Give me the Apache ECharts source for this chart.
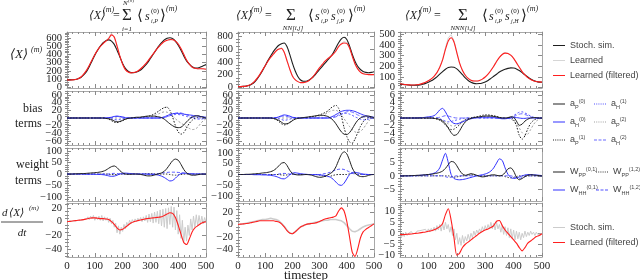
<!DOCTYPE html>
<html><head><meta charset="utf-8">
<script src="https://cdn.jsdelivr.net/npm/echarts@6/dist/echarts.min.js"></script>
<style>html,body{margin:0;padding:0;background:#fff}#c{width:640px;height:280px}</style>
</head><body><div id="c"></div>
<script>
// ---------- x values ----------
const T = [0,10,20,30,40,50,60,70,80,90,100,110,120,130,140,150,160,170,180,190,200,210,220,230,240,250,260,270,280,290,300,310,320,330,340,350,360,370,380,390,400,410,420,430,440,450,460,470,480,490,500];
const T5 = [0,5,10,15,20,25,30,35,40,45,50,55,60,65,70,75,80,85,90,95,100,105,110,115,120,125,130,135,140,145,150,155,160,165,170,175,180,185,190,195,200,205,210,215,220,225,230,235,240,245,250,255,260,265,270,275,280,285,290,295,300,305,310,315,320,325,330,335,340,345,350,355,360,365,370,375,380,385,390,395,400,405,410,415,420,425,430,435,440,445,450,455,460,465,470,475,480,485,490,495,500];

// ---------- row 1: <X>^(m) ----------
const stoch1 = [90,90,92,95,105,120,150,190,250,320,390,450,500,540,565,575,560,520,450,370,290,230,195,180,178,185,200,225,260,300,350,400,450,500,540,575,595,600,590,560,510,450,380,320,280,250,235,235,245,260,275];
const filt1 = [90,88,90,95,105,125,160,205,265,330,395,450,495,530,560,590,635,610,500,380,280,215,185,175,180,190,210,240,275,315,360,405,450,490,525,555,570,580,575,560,525,470,400,330,280,245,230,225,225,225,220];
const learned1 = [92,85,93,92,108,122,163,200,270,326,398,446,500,526,566,600,655,600,510,372,285,210,188,172,182,188,214,236,280,310,365,400,455,485,530,560,590,565,600,545,530,460,405,325,285,240,232,222,228,220,222];
const stoch2 = [10,12,15,20,30,50,80,130,190,260,340,420,490,560,615,660,685,695,640,520,380,260,170,115,95,95,110,140,180,230,280,330,380,430,480,540,620,700,760,785,750,650,520,410,330,280,250,235,230,235,245];
const filt2 = [10,12,15,20,32,55,90,140,200,270,340,410,470,520,570,600,610,550,420,290,180,120,90,75,75,85,105,140,190,250,310,360,410,450,480,520,570,640,680,695,690,620,490,370,290,240,215,205,200,200,200];
const learned2 = [12,10,17,18,35,52,93,137,205,266,345,405,475,515,578,595,625,545,425,285,185,115,93,72,78,82,108,137,195,245,315,355,415,445,490,515,580,650,690,720,700,610,500,365,295,235,220,200,205,195,205];
const stoch3 = [30,28,25,22,20,20,21,24,30,38,48,62,80,100,125,150,172,188,193,190,175,150,120,90,65,48,38,35,36,42,52,66,85,105,125,145,160,172,180,185,183,175,160,140,118,98,80,66,56,50,48];
const filt3 = [35,30,26,24,22,23,25,30,38,48,62,80,105,140,190,260,360,440,470,430,330,230,160,115,85,68,60,60,65,78,98,125,160,200,245,285,312,325,322,305,275,235,190,150,118,92,75,62,55,52,50];
const learned3 = [37,29,27,23,23,22,26,29,40,47,64,79,108,138,195,265,375,470,500,445,335,225,163,112,87,66,62,58,67,76,100,123,163,198,250,282,318,330,325,300,278,230,193,148,120,90,77,60,57,50,52];

// ---------- row 2: bias terms ----------
const aP0_1 = [0,0,0,0,0,0,0,0,0,0,0,0,0,0,-1,-2,-4,-8,-10,-9,-6,-3,-1,0,1,2,2,3,4,5,5,5,4,3,1,-3,-9,-15,-20,-24,-25,-24,-18,-10,-3,2,5,6,4,2,0];
const aP1_1 = [0,0,0,0,0,0,0,0,0,0,0,0,0,0,-1,-3,-7,-11,-12,-10,-7,-3,-1,0,0,1,1,2,3,4,6,9,13,18,23,27,28,20,2,-20,-36,-42,-38,-26,-14,-6,-1,2,3,2,0];
const aP2_1 = [0,0,0,0,0,0,0,0,0,0,0,0,0,0,0,0,0,0,0,0,0,0,0,0,0,0,0,0,0,1,3,5,8,11,14,16,15,11,5,-2,-8,-13,-18,-23,-27,-30,-29,-24,-15,-7,-2];
const aH0_1 = [0,0,0,0,0,0,0,0,0,0,0,0,0,0,0,1,2,4,5,4,3,1,0,0,0,0,0,0,0,0,0,0,0,0,1,3,6,9,11,12,12,11,10,9,8,7,6,5,4,3,2];
const aH1_1 = [0,0,0,0,0,0,0,0,0,0,0,0,0,0,0,0,-2,-4,-5,-4,-2,-1,0,0,0,0,0,0,0,0,0,0,0,0,0,2,4,6,8,9,9,8,6,4,2,0,-2,-3,-3,-2,-1];
const aH2_1 = [0,0,0,0,0,0,0,0,0,0,0,0,0,0,0,0,1,3,4,3,1,0,0,0,0,0,0,0,0,0,0,0,0,0,0,1,3,6,9,12,14,13,11,8,5,3,1,0,0,0,0];
const aP0_2 = [0,0,0,0,0,0,0,0,0,0,0,0,0,-1,-3,-6,-11,-15,-15,-12,-7,-3,-1,0,1,2,3,4,5,6,7,7,6,4,0,-6,-15,-26,-36,-42,-43,-38,-28,-16,-6,0,3,5,5,3,1];
const aP1_2 = [0,0,0,0,0,0,0,0,0,0,0,0,0,-1,-4,-9,-15,-18,-16,-11,-6,-2,0,0,1,1,2,3,4,6,8,11,14,18,25,30,33,25,5,-25,-48,-62,-65,-55,-38,-22,-10,-3,1,2,0];
const aP2_2 = [0,0,0,0,0,0,0,0,0,0,0,0,0,0,0,0,0,0,0,0,0,0,0,0,0,0,0,0,0,1,3,6,10,14,18,20,20,16,8,-2,-12,-22,-30,-36,-38,-35,-28,-18,-8,-2,0];
const aH0_2 = [0,0,0,0,0,0,0,0,0,0,0,0,0,0,1,3,6,8,7,5,2,1,0,0,0,0,0,0,0,0,0,0,0,0,2,5,9,13,17,19,20,20,19,17,14,11,8,6,4,3,2];
const aH1_2 = [0,0,0,0,0,0,0,0,0,0,0,0,0,0,0,-2,-4,-6,-5,-3,-1,0,0,0,0,0,0,0,0,0,0,0,0,0,0,2,5,8,11,12,12,10,7,3,0,-3,-5,-5,-3,-1,0];
const aH2_2 = [0,0,0,0,0,0,0,0,0,0,0,0,0,0,0,2,4,5,4,2,1,0,0,0,0,0,0,0,0,0,0,0,0,0,0,1,3,6,9,13,16,17,15,12,8,5,3,2,1,0,0];
const aP0_3 = [0,0,0,0,0,0,0,0,0,0,0,0,-0.1,-0.2,-0.4,-0.8,-1.5,-2.6,-3.8,-4.5,-4.3,-3.3,-2,-1,-0.4,-0.1,0.1,0.2,0.3,0.4,0.5,0.5,0.5,0.4,0.3,0.1,0,0,0.1,0.3,0.2,-0.8,-1.9,-1.6,-0.8,-0.3,0,0.1,0.1,0,0];
const aP1_3 = [0,0,0,0,0,0,0,0,0,0,0,0,-0.1,-0.3,-0.6,-1.1,-1.8,-2.5,-3,-2.9,-2.4,-1.7,-1,-0.5,-0.2,0,0.2,0.3,0.5,0.7,0.8,0.8,0.7,0.6,0.4,0.2,0,-0.1,0,0.2,-0.5,-2,-4.5,-5.5,-4.6,-2.8,-1.4,-0.6,-0.2,0,0];
const aP2_3 = [0,0,0,0,0,0,0,0,0,0,0,0,0,-0.1,-0.3,-0.6,-1,-1.5,-2,-2.1,-1.8,-1.3,-0.8,-0.4,-0.1,0,0.1,0.2,0.3,0.4,0.5,0.5,0.4,0.3,0.2,0.1,0,0,-0.1,-0.3,-0.7,-1.4,-2.6,-3.8,-4.5,-4.2,-3,-1.7,-0.8,-0.3,0];
const aH0_3 = [0,0,0,0,0,0,0,0.1,0.1,0.2,0.3,0.4,0.6,1.2,2.1,2.5,1.6,0.2,-0.9,-1.4,-1.5,-1.3,-1,-0.7,-0.4,-0.2,0,0.1,0.1,0.2,0.2,0.2,0.2,0.1,0,-0.1,-0.2,-0.2,-0.1,0,0.1,0.1,0,-0.1,-0.1,0,0,0,0,0,0];
const aH1_3 = [0,0,0,0,0,0,0,0,0,0,0,0,0,0,-0.2,-0.5,-0.8,-1,-0.9,-0.7,-0.5,-0.3,-0.1,0,0,0,0,0,0,0,0,0,0,0,0,0,0,0,0,0.2,0.6,1.1,1.5,1.6,1.3,0.9,0.5,0.2,0,0,0];
const aH2_3 = [0,0,0,0,0,0,0,0,0,0,0,0,0,0,0.2,0.4,0.6,0.5,0.3,0.1,0,0,0,0,0,0,0,0,0,0,0,0,0,0,0,0,0,0,0,0,0.3,0.7,1,1.1,0.9,0.6,0.3,0.1,0,0,0];

// ---------- row 3: weight terms ----------
const WPP01_1 = [0,0,0,1,1,2,2,3,4,5,6,7,9,12,17,25,32,35,28,15,5,0,-1,-1,0,0,-1,-3,-6,-8,-8,-6,-2,1,5,12,25,42,58,65,60,42,20,5,-2,-5,-5,-3,-1,0,0];
const WPP12_1 = [0,0,0,0,0,0,0,0,0,0,0,0,0,0,0,-1,-2,-3,-2,-1,0,0,0,0,0,0,0,0,1,2,2,1,0,0,0,0,0,-2,-4,-5,-4,-2,-1,0,0,0,0,0,0,0,0];
const WHH01_1 = [0,0,0,0,0,0,0,-1,-1,-1,-1,-2,-2,-3,-5,-8,-10,-9,-5,0,3,4,3,2,1,0,0,0,0,-1,-1,-2,-3,-5,-9,-15,-23,-30,-28,-18,-6,2,4,3,2,1,0,0,0,0,0];
const WHH12_1 = [0,0,0,0,0,0,0,0,0,0,0,0,0,0,0,0,2,3,2,1,0,0,0,0,0,0,0,0,0,0,0,0,1,2,4,6,7,8,8,8,7,6,4,2,1,0,0,0,0,0,0];
const WPP01_2 = [0,0,0,1,1,2,3,4,5,7,8,10,13,18,27,40,52,55,42,20,5,0,-2,-2,-1,0,-1,-3,-7,-11,-13,-12,-8,-2,5,15,35,65,92,105,95,65,30,8,-4,-9,-10,-8,-4,-1,0];
const WPP12_2 = [0,0,0,0,0,0,0,0,0,0,0,0,0,0,0,0,-2,-3,-2,0,0,0,0,0,0,0,0,0,0,0,-3,-6,-9,-10,-8,-4,-1,0,0,0,0,3,5,4,2,0,0,0,0,0,0];
const WHH01_2 = [0,0,0,0,0,0,-1,-1,-1,-2,-2,-3,-4,-6,-9,-14,-19,-20,-13,-2,6,8,6,4,2,1,0,0,-1,-1,-2,-3,-5,-8,-13,-22,-35,-47,-50,-40,-20,0,9,10,8,5,2,1,0,0,0];
const WHH12_2 = [0,0,0,0,0,0,0,0,0,0,0,0,0,0,0,2,4,5,4,2,1,0,0,0,0,0,0,0,0,0,0,2,4,7,11,16,21,24,25,23,18,12,6,2,0,0,0,0,0,0,0];
const WPP01_3 = [0,0,0,0,0.1,0.1,0.2,0.2,0.3,0.4,0.5,0.6,0.8,1,1.3,1.8,2.8,4.2,5.4,5.2,3.8,2,0.7,0.2,0.5,0.8,0.6,0.2,-0.2,-0.4,-0.3,0,0.3,0.4,0.2,0,0.2,1.2,2.6,3,1.8,-0.5,-1.5,-1,-0.3,0.2,0.4,0.3,0.2,0.1,0];
const WPP12_3 = [0,0,0,0,0,0,0,0,0,0,0,0,0,0,0,0,0,0,-0.3,-0.5,-0.4,-0.2,0,0,0.2,0.4,0.3,0.1,0,0,0,0,0,0,0,0,0,-0.3,-0.6,-0.8,-0.6,-0.3,0,0,0,0,0,0,0,0,0];
const WHH01_3 = [0,0,0,0,0,0.1,0.1,0.2,0.3,0.4,0.5,0.7,1,1.6,3,6,8.5,5,0.5,-1,-1.4,-1.5,-1.4,-1.2,-0.9,-0.6,-0.3,0,0.2,0.4,0.7,1.1,1.8,3,4.8,6.4,5.8,3,0.6,-0.6,-1,-0.8,-0.4,0,0.3,0.5,0.5,0.4,0.3,0.2,0.1];
const WHH12_3 = [0,0,0,0,0,0,0,0,0,0,0,0,0,0,0,0,-0.3,-0.6,-0.5,-0.2,0,0,0,0,0,0,0,0,0,0,0,0,0,0,0,0,0,0,0,0,-0.3,-0.7,-1,-0.7,-0.3,0,0,0,0,0,0];

// ---------- row 4: d<X>/dt ----------
const filtD1 = [0,0.5,1,1.5,2,2.5,3,4,5,5.5,5.5,5,4.5,4.5,4,3,0,-4,-9,-12,-11,-8,-5,-2,0,1,2,3,4,4.5,5,5.5,6,6.5,7,9,11,13,12,6,-5,-18,-30,-33,-25,-15,-9,-6,-3,-1,0];
const grayD1 = [0,0,1,0,1,2,1,3,2,3, 2,4,3,5,4,7,3,8,4,9, 2,7,3,8,2,9,1,7,2,6, -1,5,-3,2,-8,-2,-16,-6,-18,-8, -14,-4,-10,-1,-6,2,-3,3,-1,4, 0,5,1,6,0,7,1,9,-1,11, 0,12,-2,14,-1,15,-3,17,-6,18, -8,19,-10,20,-4,22,-8,21,-12,16, -18,10,-24,2,-30,-8,-28,-5,-20,4, -12,8,-8,10,-6,9,-4,8,-3,6, -1];
const filtD2 = [0,0.5,1,1.5,2,3,4,5,6,6,6,6,6,6,5,4,1,-4,-10,-14,-15,-12,-8,-4,-2,0,1,1.5,2,3,5,7,9,10,11,12,14,22,27,22,5,-20,-45,-52,-40,-22,-12,-8,-5,-2,1];
const grayD2 = [0,0.5,1,2,3,4,5,6,7,8,8,9,10,9,8,6,2,-3,-9,-14,-15,-12,-8,-4,-2,0,1,2,3,4,5,6,7,7,8,8,8,7,6,3,-2,-7,-11,-12,-10,-7,-4,-2,-1,0,1];
const filtD3 = [-0.5,-0.6,-0.5,-0.4,-0.3,-0.1,0,0.2,0.4,0.6,0.9,1.2,1.6,2.2,3,4.5,8.5,11.2,6,-2,-10,-9,-6.5,-5,-4,-3,-2,-1,0,0.8,1.5,2,2.6,3.5,5.5,5.8,3.5,1.5,0,-1.5,-3,-4.5,-6.5,-8,-6.5,-4.5,-3.5,-2.5,-1.5,-1,-0.2];
const grayD3 = [-1,-2,0,-1.5,0.5,-1,0,-0.5,0.8,-0.3, 0.5,0,1,0.2,1.2,0.4,1.5,0.6,1.8,0.5, 2,0.8,2.2,1,2.8,1,3.5,1.5,4,1, 4.5,1.5,5,2,4,0.5,3,-1,2,-3, 0,-5,-2,-5.5,-1,-4.5,-1.5,-3.5,-0.5,-3, 0,-2,1,-1,1.5,0,2,0.5,3,1, 3.5,1.5,4,2,5,2,4.5,1.5,5,2, 4,0.5,3.5,-0.5,3,-1,2.5,-2,2,-2.5, 1.5,-3,1,-2.5,0.5,-3,0,-2,1,-1.5, 0.5,-1,1,-0.5,0.5,-1,0.5,-0.5,0.2,-0.3, 0];

// ---------- axis ticks ----------
const YT = [
  [[0,100,200,300,400,500,600],[0,200,400,600,800],[0,100,200,300,400,500]],
  [[-60,-40,-20,0,20,40,60],[-60,-40,-20,0,20,40,60],[-6,-4,-2,0,2,4,6]],
  [[-100,-50,0,50,100],[-100,-50,0,50,100],[-5,0,5]],
  [[-40,-20,0,20],[-40,-20,0,20],[-10,-5,0,5,10]]
];
const YR = [
  [[-8,670],[-10,868],[-6,525]],
  [[-70,70],[-70,70],[-7,7]],
  [[-117,113],[-122,122],[-9.5,10.5]],
  [[-51,27],[-53,35],[-10.8,13.8]]
];
const YMINOR = [[20,50,20],[5,5,0.5],[10,10,1],[5,5,1]];

const GX = [[67,139],[238,136],[400,142]];
const GY = [[32,56],[91,54],[148,53],[203,54]];

const SERIF = '"Liberation Serif","DejaVu Serif",serif';
const SANS = '"Liberation Sans","DejaVu Sans",sans-serif';
const FRAME = '#a8a8a8', TICK = '#8a8a8a';
const fmt = v => v < 0 ? '\u2212' + Math.abs(v) : String(v);
const yLab = vals => ({customValues: vals, formatter: fmt, fontFamily: SERIF, fontSize: 10.5,
  color: '#222', margin: 5, showMinLabel: true, showMaxLabel: true, hideOverlap: false});

const grid = [], xAxis = [], yAxis = [];
for (let r = 0; r < 4; r++) for (let c = 0; c < 3; c++) {
  const g = r * 3 + c;
  grid.push({left: GX[c][0], width: GX[c][1], top: GY[r][0], height: GY[r][1], containLabel: false});
  const xb = {gridIndex: g, type: 'value', min: 0, max: 500, interval: 100,
    axisLine: {show: true, onZero: false, lineStyle: {color: FRAME, width: 1}},
    axisTick: {show: true, inside: true, length: 4, lineStyle: {color: TICK}},
    minorTick: {show: true, splitNumber: 5, length: 2, lineStyle: {color: TICK}},
    splitLine: {show: false}, minorSplitLine: {show: false}};
  xAxis.push(Object.assign({}, xb, {position: 'bottom',
    axisLabel: {show: r === 3, fontFamily: SERIF, fontSize: 11, color: '#222', margin: 4,
      showMinLabel: true, showMaxLabel: true, hideOverlap: false}}));
  xAxis.push(Object.assign({}, xb, {position: 'top', axisLabel: {show: false}}));
  const [mn, mx] = YR[r][c];
  const major = YT[r][c];
  const st = YMINOR[r][c];
  const minor = [];
  for (let k = Math.ceil(mn / st); k * st <= mx + 1e-9; k++) {
    const v = Math.round(k * st * 1000) / 1000;
    if (!major.includes(v)) minor.push(v);
  }
  // labels split over two left axes so that no single axis thins them
  const labA = major.filter((_, i) => i % 2 === 0);
  const labB = major.filter((_, i) => i % 2 === 1);
  const yb = {gridIndex: g, type: 'value', min: mn, max: mx, splitLine: {show: false}};
  yAxis.push(Object.assign({}, yb, {position: 'left',
    axisLine: {show: true, onZero: false, lineStyle: {color: FRAME}},
    axisTick: {show: true, inside: true, length: 4, customValues: major, lineStyle: {color: TICK}},
    axisLabel: yLab(labA)}));
  yAxis.push(Object.assign({}, yb, {position: 'right',
    axisLine: {show: true, onZero: false, lineStyle: {color: FRAME}},
    axisTick: {show: true, inside: true, length: 4, customValues: major, lineStyle: {color: TICK}},
    axisLabel: {show: false}}));
  yAxis.push(Object.assign({}, yb, {position: 'left', axisLine: {show: false},
    axisTick: {show: true, inside: true, length: 2, customValues: minor, lineStyle: {color: TICK}},
    axisLabel: labB.length ? yLab(labB) : {show: false}}));
  yAxis.push(Object.assign({}, yb, {position: 'right', axisLine: {show: false},
    axisTick: {show: true, inside: true, length: 2, customValues: minor, lineStyle: {color: TICK}},
    axisLabel: {show: false}}));
}

const series = [];
function ln(g, name, xs, ys, color, width, type, smooth) {
  series.push({type: 'line', name, xAxisIndex: 2 * g, yAxisIndex: 4 * g,
    data: xs.map((x, i) => [x, ys[i]]), symbol: 'none', showSymbol: false,
    smooth: smooth === undefined ? 0.25 : smooth, silent: true, animation: false,
    lineStyle: {color, width, type: type || 'solid'}, itemStyle: {color}});
}
const BLACK = '#1e1e1e', RED = '#ff1f1f', LGRAY = '#d6d6d6';
const BLUE = '#3030ff', BLUE2 = '#5050ff', LBLUE = '#6a6aff';

// row 1
[[learned1, stoch1, filt1], [learned2, stoch2, filt2], [learned3, stoch3, filt3]].forEach((d, c) => {
  ln(c, 'Learned', T, d[0], LGRAY, 1, 'solid', false);
  ln(c, 'Stoch. sim.', T, d[1], BLACK, 1.1);
  ln(c, 'Learned (filtered)', T, d[2], RED, 1.1);
});
// row 2
[[aP0_1, aH0_1, aP1_1, aH1_1, aP2_1, aH2_1],
 [aP0_2, aH0_2, aP1_2, aH1_2, aP2_2, aH2_2],
 [aP0_3, aH0_3, aP1_3, aH1_3, aP2_3, aH2_3]].forEach((d, c) => {
  const g = 3 + c;
  ln(g, 'aP2', T, d[4], '#a0a0a0', 1, [2, 2]);
  ln(g, 'aH2', T, d[5], LBLUE, 1, [4, 2]);
  ln(g, 'aH1', T, d[3], BLUE2, 1, [2, 2]);
  ln(g, 'aP1', T, d[2], BLACK, 1, [1.5, 1.5]);
  ln(g, 'aH0', T, d[1], BLUE, 1);
  ln(g, 'aP0', T, d[0], BLACK, 1);
});
// row 3
[[WPP01_1, WPP12_1, WHH01_1, WHH12_1],
 [WPP01_2, WPP12_2, WHH01_2, WHH12_2],
 [WPP01_3, WPP12_3, WHH01_3, WHH12_3]].forEach((d, c) => {
  const g = 6 + c;
  ln(g, 'WPP12', T, d[1], '#333', 1, [1.5, 1.5]);
  ln(g, 'WHH12', T, d[3], BLUE2, 1, [3, 2]);
  ln(g, 'WHH01', T, d[2], BLUE, 1);
  ln(g, 'WPP01', T, d[0], BLACK, 1);
});
// row 4
ln(9, 'Stoch. sim. ', T5, grayD1, '#cccccc', 1, 'solid', false);
ln(9, 'Learned (filtered)', T, filtD1, RED, 1.1);
ln(10, 'Stoch. sim. ', T, grayD2, '#cccccc', 1.6, 'solid', false);
ln(10, 'Learned (filtered)', T, filtD2, RED, 1.1);
ln(11, 'Stoch. sim. ', T5, grayD3, '#cccccc', 1, 'solid', false);
ln(11, 'Learned (filtered)', T, filtD3, RED, 1.1);

// ---------- legends ----------
const LEG = {
  aP0: '{n|a}{b|P}{p|(0)}', aH0: '{n|a}{b|H}{p|(0)}', aP1: '{n|a}{b|P}{p|(1)}',
  aH1: '{n|a}{b|H}{p|(1)}', aP2: '{n|a}{b|P}{p|(2)}', aH2: '{n|a}{b|H}{p|(2)}',
  WPP01: '{n|W}{b|PP}{p|(0,1)}', WPP12: '{n|W}{b|PP}{p|(1,2)}',
  WHH01: '{n|W}{b|HH}{p|(0,1)}', WHH12: '{n|W}{b|HH}{p|(1,2)}'
};
const ICON_SOLID = 'path://M0,0h12v1h-12z';
const ICON_DOT = 'path://M0,0h1v1h-1zM2.2,0h1v1h-1zM4.4,0h1v1h-1zM6.6,0h1v1h-1zM8.8,0h1v1h-1zM11,0h1v1h-1z';
const ICON_DASH = 'path://M0,0h3v1h-3zM4.5,0h3v1h-3zM9,0h3v1h-3z';
const ICONS = {aP1: ICON_DOT, aH1: ICON_DOT, aP2: ICON_DOT, aH2: ICON_DASH, WPP12: ICON_DOT, WHH12: ICON_DASH};
const legText = {
  fontFamily: SANS, fontSize: 9, color: '#444',
  rich: {
    n: {fontFamily: SANS, fontSize: 9, color: '#444', lineHeight: 12},
    b: {fontFamily: SANS, fontSize: 5.5, color: '#444', lineHeight: 6, verticalAlign: 'bottom'},
    p: {fontFamily: SANS, fontSize: 5.5, color: '#444', lineHeight: 6, verticalAlign: 'top'}
  }
};
function leg(left, top, names) {
  return {left, top, orient: 'vertical', itemGap: 6, itemWidth: 12, itemHeight: 1.2,
    selectedMode: false, textStyle: legText,
    data: names.map(n => ({name: n, icon: ICONS[n] || ICON_SOLID})),
    formatter: n => LEG[n] ? LEG[n] : '{n|' + n.trim() + '}'};
}
const legend = [
  leg(548, 36, ['Stoch. sim.', 'Learned', 'Learned (filtered)']),
  leg(548, 93, ['aP0', 'aH0', 'aP1']),
  leg(589, 93, ['aH1', 'aP2', 'aH2']),
  leg(548, 161, ['WPP01', 'WHH01']),
  leg(591, 161, ['WPP12', 'WHH12']),
  leg(548, 218, ['Stoch. sim. ', 'Learned (filtered)'])
];

// ---------- text (titles, axis names) ----------
function t(x, y, s, size, it, align) {
  return {type: 'text', x, y, silent: true, style: {text: s, fill: '#222',
    font: (it ? 'italic ' : '') + size + 'px ' + SERIF, align: align || 'left', verticalAlign: 'middle'}};
}
const graphic = [
  // title 1
  t(89, 16, '\u27E8X\u27E9', 12, true), t(103, 10, '(m)', 8, true), t(113, 16, '=', 12),
  t(127, 16, '\u03A3', 17, false, 'center'), t(123, 3, 'N', 7, true), t(128, 1, '(0)', 5),
  t(127, 29, 'i=1', 7, true, 'center'), t(137, 16, '\u27E8', 15), t(145, 17, 's', 12, true),
  t(151, 11, '(0)', 7), t(151, 21, 'i,P', 6, true), t(160, 16, '\u27E9', 15), t(166, 9, '(m)', 8, true),
  // title 2
  t(236, 16, '\u27E8X\u27E9', 12, true), t(251, 10, '(m)', 8, true), t(265, 16, '=', 12),
  t(291, 16, '\u03A3', 17, false, 'center'), t(293, 28, 'NN[i,j]', 7, true, 'center'),
  t(308, 16, '\u27E8', 15), t(315, 17, 's', 12, true), t(321, 11, '(0)', 7), t(321, 21, 'i,P', 6, true),
  t(331, 17, 's', 12, true), t(337, 11, '(0)', 7), t(337, 21, 'j,P', 6, true),
  t(348, 16, '\u27E9', 15), t(354, 9, '(m)', 8, true),
  // title 3
  t(405, 16, '\u27E8X\u27E9', 12, true), t(420, 10, '(m)', 8, true), t(434, 16, '=', 12),
  t(463, 16, '\u03A3', 17, false, 'center'), t(463, 28, 'NNN[i,j]', 7, true, 'center'),
  t(482, 16, '\u27E8', 15), t(489, 17, 's', 12, true), t(495, 11, '(0)', 7), t(495, 21, 'i,P', 6, true),
  t(505, 17, 's', 12, true), t(511, 11, '(0)', 7), t(511, 21, 'j,H', 6, true),
  t(521, 16, '\u27E9', 15), t(527, 9, '(m)', 8, true),
  // left labels
  t(10, 55, '\u27E8X\u27E9', 13, true), t(31, 50, '(m)', 8, true),
  t(23, 109, 'bias', 12), t(15, 124, 'terms', 12),
  t(16, 165, 'weight', 12), t(15, 181, 'terms', 12),
  t(2, 213, 'd', 11, true), t(9, 213, '\u27E8X\u27E9', 11, true), t(29, 208, '(m)', 7, true),
  {type: 'line', silent: true, shape: {x1: 1, y1: 222, x2: 43, y2: 222}, style: {stroke: '#222', lineWidth: 0.8}},
  t(22, 233, 'dt', 11, true, 'center'),
  t(306, 276, 'timestep', 13, false, 'center')
];

const chart = echarts.init(document.getElementById('c'), null, {renderer: 'canvas'});
chart.setOption({animation: false, backgroundColor: '#fff', grid, xAxis, yAxis, series, legend, graphic});
</script>
</body></html>
